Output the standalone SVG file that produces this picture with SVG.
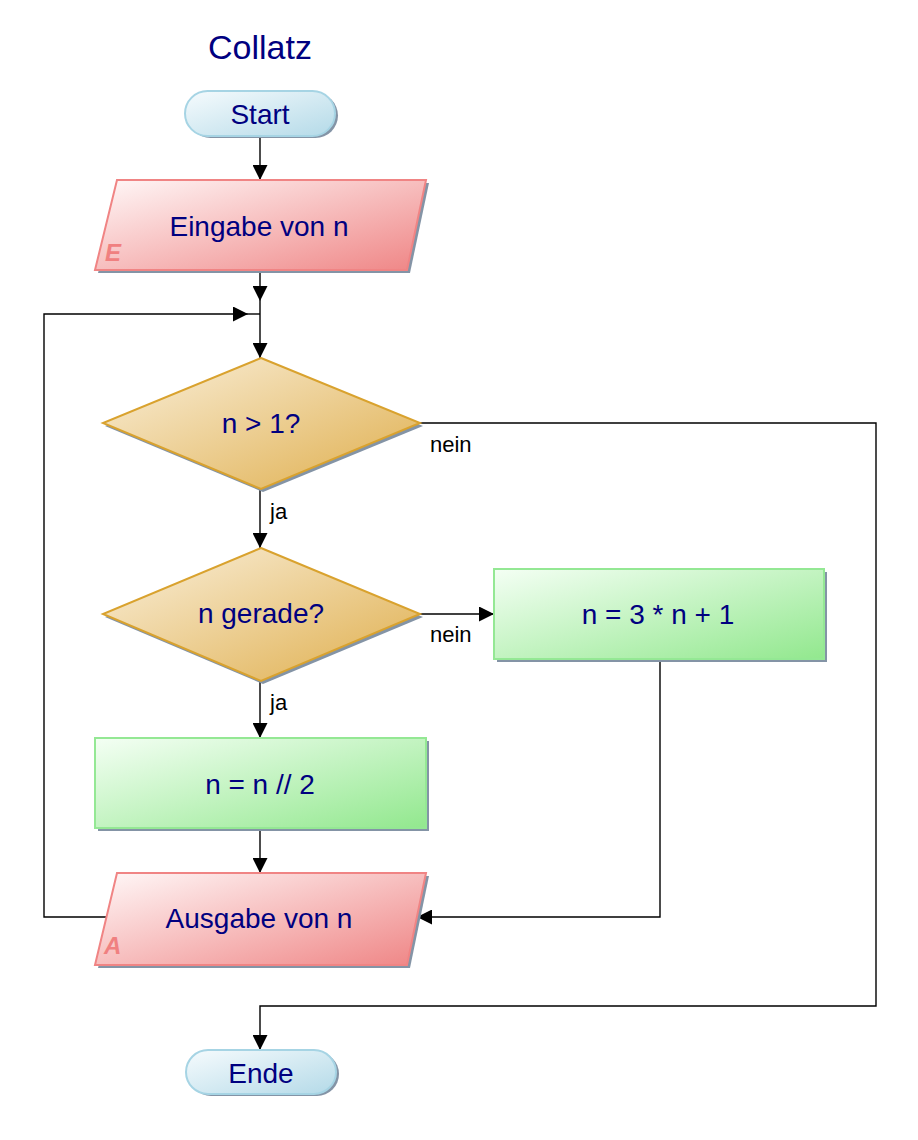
<svg xmlns="http://www.w3.org/2000/svg" width="918" height="1140" viewBox="0 0 918 1140">
<defs>
<linearGradient id="gBlue" x1="0" y1="0" x2="1" y2="1"><stop offset="0" stop-color="#f6fbfd"/><stop offset="1" stop-color="#b4dae8"/></linearGradient>
<linearGradient id="gRed" x1="0" y1="0" x2="1" y2="1"><stop offset="0" stop-color="#fff8f8"/><stop offset="1" stop-color="#ef8585"/></linearGradient>
<linearGradient id="gGold" x1="0" y1="0" x2="1" y2="1"><stop offset="0" stop-color="#faf0dc"/><stop offset="1" stop-color="#dfae4c"/></linearGradient>
<linearGradient id="gGreen" x1="0" y1="0" x2="1" y2="1"><stop offset="0" stop-color="#f4fff4"/><stop offset="1" stop-color="#92e88e"/></linearGradient>
<marker id="arr" markerUnits="userSpaceOnUse" markerWidth="15" markerHeight="15" refX="15" refY="7.5" orient="auto" viewBox="0 0 15 15"><path d="M0,0 L15,7.5 L0,15 z" fill="#000"/></marker>
<style>
.shadow{fill:#8494a6;}
.blue{fill:url(#gBlue);stroke:#a6d4e4;stroke-width:2;}
.red{fill:url(#gRed);stroke:#f08484;stroke-width:2;}
.gold{fill:url(#gGold);stroke:#d9a22e;stroke-width:2;}
.green{fill:url(#gGreen);stroke:#94e894;stroke-width:2;}
.t{font-family:"Liberation Sans",Arial,sans-serif;font-size:28px;fill:#000080;text-anchor:middle;}
.title{font-family:"Liberation Sans",Arial,sans-serif;font-size:34px;fill:#000080;text-anchor:middle;}
.lbl{font-family:"Liberation Sans",Arial,sans-serif;font-size:22px;fill:#000;}
.io{font-family:"Liberation Sans",Arial,sans-serif;font-size:24px;font-weight:bold;font-style:italic;fill:#f08080;}
.c{fill:none;stroke:#000;stroke-width:1.4;}
</style>
</defs>
<rect width="918" height="1140" fill="#fff"/>
<text class="title" x="260" y="59">Collatz</text>

<g id="connectors">
<path class="c" d="M260,137 V180" marker-end="url(#arr)"/>
<path class="c" d="M260,271 V301" marker-end="url(#arr)"/>
<path class="c" d="M260,301 V358" marker-end="url(#arr)"/>
<path class="c" d="M106,917 H44 V314 H248" marker-end="url(#arr)"/>
<path class="c" d="M248,314 H260"/>
<path class="c" d="M420,423 H876 V1006 H260 V1050" marker-end="url(#arr)"/>
<path class="c" d="M260,489 V548" marker-end="url(#arr)"/>
<path class="c" d="M420,614 H494" marker-end="url(#arr)"/>
<path class="c" d="M260,681 V738" marker-end="url(#arr)"/>
<path class="c" d="M660,660 V917 H417" marker-end="url(#arr)"/>
<path class="c" d="M260,829 V873" marker-end="url(#arr)"/>
<text class="lbl" x="430" y="452">nein</text>
<text class="lbl" x="270" y="519">ja</text>
<text class="lbl" x="430" y="642">nein</text>
<text class="lbl" x="270" y="710">ja</text>
</g>

<g id="start">
<rect class="shadow" x="188" y="93" width="150" height="45" rx="22.5"/>
<rect class="blue" x="185" y="91" width="150" height="45" rx="22.5"/>
<text class="t" x="260" y="124">Start</text>
</g>

<g id="eingabe">
<polygon class="shadow" points="120,183 429,183 410,273 98,273"/>
<polygon class="red" points="117,180 426,180 407,270 95,270"/>
<text class="t" x="259" y="236">Eingabe von n</text>
<text class="io" x="105" y="261">E</text>
</g>

<g id="cond1">
<polygon class="shadow" points="263,361 423,426 263,492 105,426"/>
<polygon class="gold" points="261,358 420,423 261,489 103,423"/>
<text class="t" x="261" y="433">n &gt; 1?</text>
</g>

<g id="cond2">
<polygon class="shadow" points="263,551 423,617 263,684 105,617"/>
<polygon class="gold" points="261,548 420,614 261,681 103,614"/>
<text class="t" x="261" y="623">n gerade?</text>
</g>

<g id="odd">
<rect class="shadow" x="497" y="572" width="330" height="90"/>
<rect class="green" x="494" y="569" width="330" height="90"/>
<text class="t" x="658" y="624">n = 3 * n + 1</text>
</g>

<g id="even">
<rect class="shadow" x="98" y="741" width="331" height="90"/>
<rect class="green" x="95" y="738" width="331" height="90"/>
<text class="t" x="260" y="794">n = n // 2</text>
</g>

<g id="ausgabe">
<polygon class="shadow" points="120,876 429,876 410,968 98,968"/>
<polygon class="red" points="117,873 426,873 407,965 95,965"/>
<text class="t" x="259" y="928">Ausgabe von n</text>
<text class="io" x="104" y="954">A</text>
</g>

<g id="ende">
<rect class="shadow" x="189" y="1052" width="150" height="44" rx="22"/>
<rect class="blue" x="186" y="1050" width="150" height="44" rx="22"/>
<text class="t" x="261" y="1083">Ende</text>
</g>
</svg>
